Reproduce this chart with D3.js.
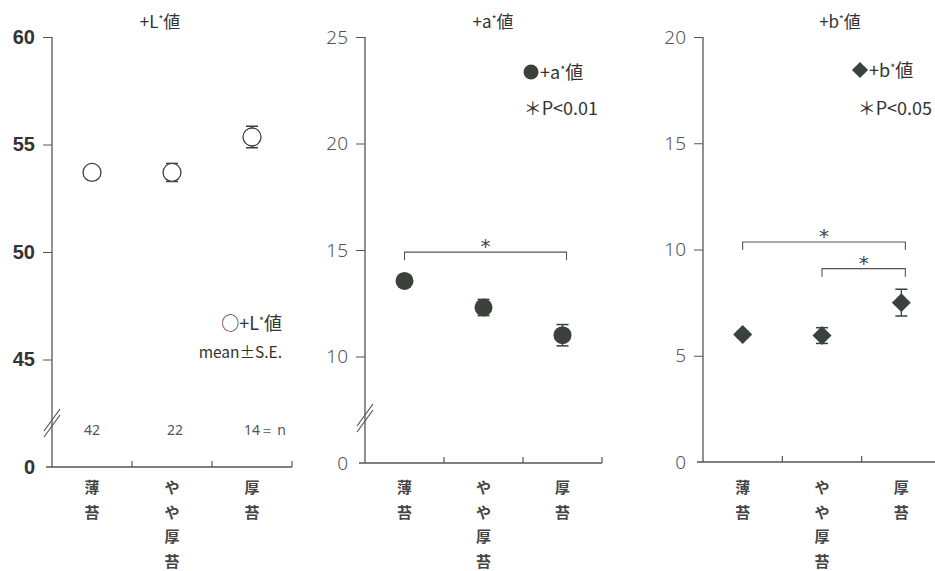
<!DOCTYPE html>
<html>
<head>
<meta charset="utf-8">
<script src="https://cdn.jsdelivr.net/npm/d3@7"></script>
<style>
  body { margin: 0; background: #fff; }
  svg { display: block; }
  text { fill: #333; }
</style>
</head>
<body>
<svg width="935" height="571"></svg>
<script>
// categories and values
var categories = ['薄苔', 'やや厚苔', '厚苔'];
var nValues = [42, 22, 14];

var lMean = [53.7, 53.7, 55.35];
var lSE = [0.2, 0.42, 0.5];
var aMean = [13.55, 12.3, 11.0];
var aSE = [0.2, 0.38, 0.5];
var bMean = [6.0, 5.95, 7.5];
var bSE = [0.15, 0.37, 0.63];

var lTicks = [45, 50, 55, 60];
var aTicks = [10, 15, 20, 25];
var bTicks = [0, 5, 10, 15, 20];

// significance brackets: [from index, to index, bracket level]
var aSig = [[0, 2, 14.9]];
var bSig = [[0, 2, 10.35], [1, 2, 9.1]];

var svg = d3.select('svg');
var ink = '#3b413c';
var axisCol = '#555';
var jp = '"Noto Sans CJK JP", "Noto Sans", sans-serif';

var panels = [
  { title: 'L', titleX: 160, x0: 52, x1: 292, top: 37, bottom: 467, domain: [40, 60], ticks: lTicks,
    mean: lMean, se: lSE, shape: 'open', brk: 423, bold: true, sig: [] },
  { title: 'a', titleX: 493, x0: 365, x1: 602, top: 37, bottom: 463, domain: [5, 25], ticks: aTicks,
    mean: aMean, se: aSE, shape: 'circle', brk: 418, bold: false, sig: aSig },
  { title: 'b', titleX: 840, x0: 703, x1: 941, top: 37, bottom: 462, domain: [0, 20], ticks: bTicks,
    mean: bMean, se: bSE, shape: 'diamond', brk: null, bold: false, sig: bSig }
];

function starLabel(g, x, y, letter, anchor, size) {
  var t = g.append('text').attr('x', x).attr('y', y)
    .attr('text-anchor', anchor)
    .style('font-family', jp).style('font-size', size + 'px');
  t.append('tspan').text('+' + letter);
  t.append('tspan').text('*').attr('dy', -5).style('font-size', (size * 0.6) + 'px');
  t.append('tspan').text('値').attr('dy', 5);
  return t;
}

function drawMarker(g, shape, x, y, r) {
  if (shape === 'open') {
    g.append('circle').attr('cx', x).attr('cy', y).attr('r', r)
      .attr('fill', '#fff').attr('stroke', ink).attr('stroke-width', 1.3);
  } else if (shape === 'circle') {
    g.append('circle').attr('cx', x).attr('cy', y).attr('r', r).attr('fill', ink);
  } else {
    g.append('path')
      .attr('d', d3.symbol().type(d3.symbolDiamond2).size(r * r * 2.3)())
      .attr('transform', 'translate(' + x + ',' + y + ')').attr('fill', ink);
  }
}

panels.forEach(function(p) {
  var g = svg.append('g');
  var x = d3.scaleBand().domain(categories).range([p.x0, p.x1]);
  var y = d3.scaleLinear().domain(p.domain).range([p.bottom, p.top]);

  // y axis
  var yAxis = d3.axisLeft(y)
    .tickValues(p.ticks.concat(p.domain[0] > 0 ? [p.domain[0]] : []))
    .tickSize(9).tickPadding(8)
    .tickFormat(function(d) { return d === p.domain[0] ? '0' : d; });
  var ya = g.append('g').attr('transform', 'translate(' + p.x0 + ',0)').call(yAxis);
  ya.select('.domain').remove();
  ya.selectAll('.tick line').attr('stroke', axisCol)
    .filter(function(d) { return d === p.domain[0]; }).remove();
  ya.selectAll('.tick text')
    .style('font-family', p.bold ? '"Liberation Sans Narrow", "Liberation Sans", sans-serif' : '"Noto Sans", sans-serif')
    .style('font-weight', p.bold ? 'bold' : 300)
    .style('font-size', p.bold ? '20px' : '19px')
    .style('fill', p.bold ? '#333' : '#555');
  g.append('line').attr('x1', p.x0).attr('x2', p.x0)
    .attr('y1', p.top).attr('y2', p.bottom)
    .attr('stroke', axisCol).attr('stroke-width', 1.3);

  // axis break
  if (p.brk) {
    [-3, 3].forEach(function(o) {
      g.append('line')
        .attr('x1', p.x0 - 8).attr('y1', p.brk + 11 + o)
        .attr('x2', p.x0 + 8).attr('y2', p.brk - 11 + o)
        .attr('stroke', axisCol).attr('stroke-width', 1.2);
    });
  }

  // x axis
  var xa = g.append('g').attr('transform', 'translate(0,' + p.bottom + ')');
  xa.append('line').attr('x1', p.x0 - 6).attr('x2', p.x1)
    .attr('stroke', axisCol).attr('stroke-width', 1.3);
  xa.selectAll('.xt').data(categories).enter().append('line')
    .attr('x1', function(d) { return x(d) + x.bandwidth(); })
    .attr('x2', function(d) { return x(d) + x.bandwidth(); })
    .attr('y1', 0).attr('y2', -6).attr('stroke', axisCol).attr('stroke-width', 1.2);

  // vertical category labels
  categories.forEach(function(c) {
    c.split('').forEach(function(ch, i) {
      g.append('text').attr('x', x(c) + x.bandwidth() / 2)
        .attr('y', 493 + i * 24.5)
        .attr('text-anchor', 'middle')
        .style('font-family', jp).style('font-weight', 'bold').style('font-size', '15px')
        .style('fill', '#444').text(ch);
    });
  });

  // title
  starLabel(g, p.titleX, 28, p.title, 'middle', 17);

  // error bars and markers
  var cx = function(i) { return x(categories[i]) + x.bandwidth() / 2; };
  p.mean.forEach(function(m, i) {
    var x0 = cx(i);
    g.append('line').attr('x1', x0).attr('x2', x0)
      .attr('y1', y(m - p.se[i])).attr('y2', y(m + p.se[i]))
      .attr('stroke', ink).attr('stroke-width', 1.3);
    [m - p.se[i], m + p.se[i]].forEach(function(v) {
      g.append('line').attr('x1', x0 - 6).attr('x2', x0 + 6)
        .attr('y1', y(v)).attr('y2', y(v)).attr('stroke', ink).attr('stroke-width', 1.5);
    });
    drawMarker(g, p.shape, x0, y(m), p.shape === 'diamond' ? 10 : 9);
  });

  // significance brackets
  p.sig.forEach(function(s) {
    var xa0 = cx(s[0]), xa1 = cx(s[1]) + 4, yy = y(s[2]);
    g.append('path')
      .attr('d', 'M' + xa0 + ',' + (yy + 8) + 'V' + yy + 'H' + xa1 + 'V' + (yy + 8))
      .attr('fill', 'none').attr('stroke', axisCol).attr('stroke-width', 1.1);
    g.append('text').attr('x', (xa0 + xa1) / 2).attr('y', yy + 1)
      .attr('text-anchor', 'middle')
      .style('font-family', '"DejaVu Sans", sans-serif').style('font-size', '20px')
      .style('fill', '#444').text('*');
  });
});

// panel 1 legend and n
var g1 = svg.append('g');
starLabel(g1, 282, 330, 'L', 'end', 18).select('tspan').text('○+L');
g1.append('text').attr('x', 282).attr('y', 358).attr('text-anchor', 'end')
  .style('font-family', jp).style('font-size', '15.5px').text('mean±S.E.');
var xn = d3.scaleBand().domain(categories).range([52, 292]);
nValues.forEach(function(n, i) {
  g1.append('text').attr('x', xn(categories[i]) + xn.bandwidth() / 2 + (i === 1 ? 3 : 0))
    .attr('y', 435).attr('text-anchor', 'middle')
    .style('font-family', '"Noto Sans", sans-serif').style('font-size', '14px')
    .style('fill', '#555').text(n);
});
g1.append('text').attr('x', 286).attr('y', 435).attr('text-anchor', 'end')
  .style('font-family', '"Noto Sans", sans-serif').style('font-size', '14px')
  .style('fill', '#555').text('＝ n');

// panel 2 legend
var g2 = svg.append('g');
drawMarker(g2, 'circle', 531, 72, 7.5);
starLabel(g2, 540, 79, 'a', 'start', 18);
g2.append('text').attr('x', 598).attr('y', 115).attr('text-anchor', 'end')
  .style('font-family', jp).style('font-size', '18px').text('＊P<0.01');

// panel 3 legend
var g3 = svg.append('g');
drawMarker(g3, 'diamond', 860, 70, 8.5);
starLabel(g3, 869, 77, 'b', 'start', 18);
g3.append('text').attr('x', 932).attr('y', 115).attr('text-anchor', 'end')
  .style('font-family', jp).style('font-size', '18px').text('＊P<0.05');
</script>
</body>
</html>
